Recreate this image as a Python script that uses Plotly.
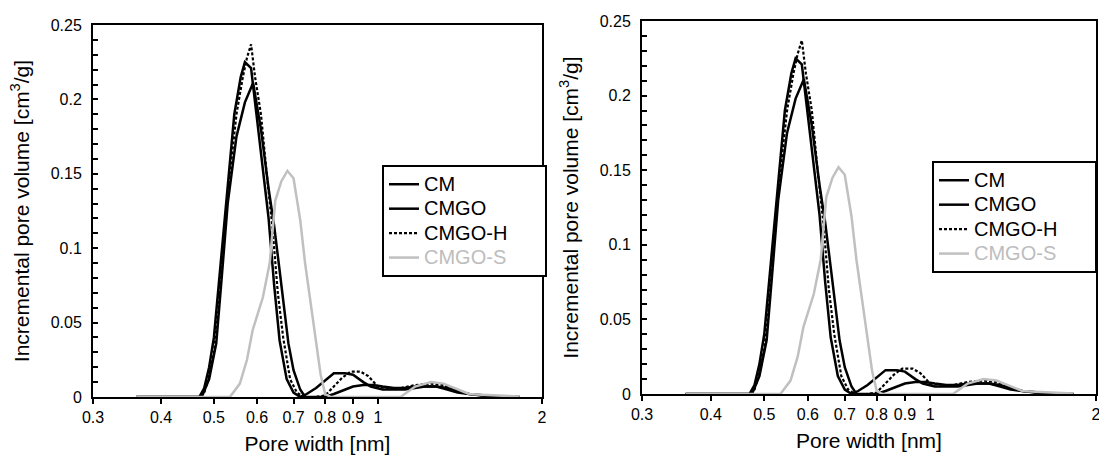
import plotly.graph_objects as go
import math

# ---- data ----
cm_w = [0.36, 0.44, 0.47, 0.48, 0.49, 0.50, 0.51, 0.52, 0.53, 0.545, 0.56, 0.57, 0.585, 0.60, 0.615, 0.63,
        0.645, 0.66, 0.68, 0.70, 0.72, 0.74, 0.77, 0.80, 0.83, 0.87, 0.90, 0.94, 0.97, 1.02, 1.07, 1.12,
        1.17, 1.22, 1.28, 1.34, 1.40, 1.47, 1.55, 1.63, 1.72, 1.82]
cm_v = [0, 0, 0, 0.006, 0.02, 0.04, 0.075, 0.11, 0.14, 0.19, 0.215, 0.225, 0.221, 0.185, 0.15, 0.12,
        0.075, 0.038, 0.012, 0.003, 0, 0.002, 0.006, 0.011, 0.016, 0.016, 0.015, 0.010, 0.007, 0.005, 0.005, 0.005,
        0.006, 0.007, 0.007, 0.006, 0.004, 0.002, 0.001, 0.0005, 0, 0]

cmgo_w = [0.36, 0.44, 0.475, 0.49, 0.505, 0.517, 0.53, 0.55, 0.57, 0.59, 0.61, 0.63, 0.645, 0.66, 0.685,
          0.70, 0.72, 0.735, 0.77, 0.80, 0.83, 0.87, 0.90, 0.94, 0.98, 1.02, 1.07, 1.12, 1.17, 1.22, 1.28,
          1.34, 1.40, 1.47, 1.55, 1.63, 1.72, 1.82]
cmgo_v = [0, 0, 0, 0.012, 0.036, 0.081, 0.13, 0.175, 0.198, 0.211, 0.18, 0.14, 0.115, 0.085, 0.036,
          0.018, 0.005, 0, 0, 0, 0.002, 0.005, 0.007, 0.008, 0.008, 0.007, 0.006, 0.006, 0.007, 0.007, 0.007,
          0.005, 0.003, 0.002, 0.001, 0.0005, 0.0003, 0]

cmgoh_w = [0.36, 0.44, 0.47, 0.48, 0.49, 0.50, 0.51, 0.52, 0.535, 0.55, 0.565, 0.575, 0.585, 0.595, 0.61,
           0.625, 0.64, 0.655, 0.67, 0.69, 0.71, 0.73, 0.77, 0.80, 0.83, 0.86, 0.89, 0.93, 0.96, 1.00, 1.05,
           1.10, 1.17, 1.25, 1.32, 1.40, 1.47, 1.55, 1.63, 1.72, 1.82]
cmgoh_v = [0, 0, 0, 0.003, 0.014, 0.03, 0.06, 0.10, 0.15, 0.19, 0.215, 0.228, 0.237, 0.215, 0.19,
           0.15, 0.115, 0.07, 0.04, 0.012, 0.003, 0, 0, 0.001, 0.007, 0.013, 0.017, 0.017, 0.014, 0.007, 0.006,
           0.006, 0.008, 0.009, 0.008, 0.004, 0.002, 0.001, 0.0005, 0.0003, 0]

cmgos_w = [0.36, 0.45, 0.535, 0.558, 0.575, 0.589, 0.602, 0.615, 0.633, 0.648, 0.665, 0.682, 0.70, 0.72,
           0.735, 0.75, 0.77, 0.785, 0.80, 0.82, 0.90, 1.00, 1.10, 1.17, 1.25, 1.32, 1.40, 1.47, 1.55, 1.63,
           1.72, 1.82]
cmgos_v = [0, 0, 0, 0.009, 0.025, 0.045, 0.057, 0.067, 0.09, 0.132, 0.145, 0.152, 0.147, 0.119,
           0.09, 0.067, 0.035, 0.015, 0.002, 0, 0, 0, 0, 0.007, 0.010, 0.009, 0.005, 0.002, 0.0015, 0.001,
           0.0008, 0.0003]

names = ["CM", "CMGO", "CMGO-H", "CMGO-S"]
x_tickvals = [0.3, 0.4, 0.5, 0.6, 0.7, 0.8, 0.9, 1, 2]
x_ticktext = ["0.3", "0.4", "0.5", "0.6", "0.7", "0.8", "0.9", "1", "2"]

series = [
    (cm_w, cm_v, dict(color="black", width=2.5)),
    (cmgo_w, cmgo_v, dict(color="black", width=2.5)),
    (cmgoh_w, cmgoh_v, dict(color="black", width=2.2, dash="3px,2px")),
    (cmgos_w, cmgos_v, dict(color="#c0c0c0", width=2.5)),
]
label_colors = ["black", "black", "black", "#bdbdbd"]
pad = "\u00a0" * 7

FONT = "Liberation Sans"
fig = go.Figure()
for panel in (1, 2):
    for (w, v, ln), nm, col in zip(series, names, label_colors):
        lab = '<span style="font-size:20px;color:%s">%s</span>%s' % (col, nm, pad)
        fig.add_trace(go.Scatter(
            x=w, y=v, mode="lines", line=ln, name=lab,
            xaxis="x" if panel == 1 else "x2",
            yaxis="y" if panel == 1 else "y2",
            legend="legend" if panel == 1 else "legend2",
            hoverinfo="skip",
        ))

W, H = 1099, 455
def xdom(a, b):
    return [a / W, b / W]
def ydom(top, bot):
    return [(H - bot) / H, (H - top) / H]

common_x = dict(
    type="log", range=[math.log10(0.3), math.log10(2)],
    tickvals=x_tickvals, ticktext=x_ticktext,
    ticks="outside", ticklen=5, tickwidth=2, tickcolor="black",
    showline=True, linewidth=2, linecolor="black", mirror=True,
    showgrid=False, zeroline=False, automargin=False,
    ticklabeloverflow="allow",
    tickfont=dict(family=FONT, size=16, color="black"),
    title=dict(text="Pore width [nm]", font=dict(family=FONT, size=21, color="black"), standoff=11),
)
common_y = dict(
    range=[0, 0.25], tick0=0, dtick=0.05,
    ticks="inside", ticklen=5, tickwidth=2, tickcolor="black",
    minor=dict(dtick=0.01, ticks="inside", ticklen=5, tickwidth=2, tickcolor="black", showgrid=False),
    showline=True, linewidth=2, linecolor="black", mirror=True,
    showgrid=False, zeroline=False, automargin=False,
    ticklabelstandoff=6,
    tickfont=dict(family=FONT, size=16, color="black"),
    title=dict(text="Incremental pore volume [cm<sup>3</sup>/g]", font=dict(family=FONT, size=21, color="black"), standoff=15),
)

legend_common = dict(
    bgcolor="white", bordercolor="black", borderwidth=2,
    font=dict(family=FONT, size=16.5, color="black"),
    xanchor="left", yanchor="top", tracegroupgap=0,
)

fig.update_layout(
    width=W, height=H,
    margin=dict(l=0, r=0, t=0, b=0, autoexpand=False),
    paper_bgcolor="white", plot_bgcolor="white",
    showlegend=True,
    xaxis=dict(domain=xdom(93, 542), anchor="y", **common_x),
    yaxis=dict(domain=ydom(25, 397), anchor="x", **common_y),
    xaxis2=dict(domain=xdom(642, 1096), anchor="y2", **common_x),
    yaxis2=dict(domain=ydom(21, 394), anchor="x2", **common_y),
    legend=dict(x=382 / W, y=1 - 165 / H, **legend_common),
    legend2=dict(x=932 / W, y=1 - 161 / H, **legend_common),
)

fig.write_html(
    "out.html",
    config={"displayModeBar": False},
    post_script="document.body.style.margin='0';document.body.style.overflow='hidden';",
)
